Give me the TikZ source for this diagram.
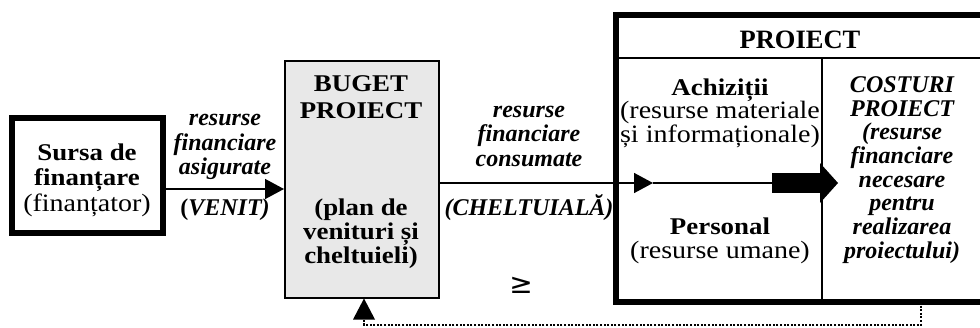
\documentclass[tikz,border=0pt]{standalone}
\usepackage{fontspec}
\setmainfont{Liberation Serif}
\newfontfamily\widefont[FakeStretch=1.12]{Liberation Serif}
\newfontfamily\symfont{DejaVu Sans}
\usetikzlibrary{arrows.meta}
% text sizes: upright regular, upright bold
\newcommand\rgsz{\widefont\fontsize{25}{23.5}\selectfont}
\newcommand\bdsz{\widefont\fontsize{24}{23.5}\selectfont\bfseries}
\begin{document}
\begin{tikzpicture}[x=1pt,y=-1pt,
  txt/.style={align=center, inner sep=0pt, font=\fontsize{24}{24}\selectfont},
  boldit/.style={txt, font=\fontsize{24}{24.5}\selectfont\bfseries\itshape},
  heavybox/.style={draw, line width=6pt, inner sep=0pt, outer sep=0pt},
  budgetbox/.style={draw, fill=gray!18, line width=1.5pt, inner sep=0pt},
  thinline/.style={line width=1.5pt},
  flow/.style={line width=1.5pt, -{Triangle[length=19pt,width=20pt]}},
  bigflow/.style={line width=20pt, -{Triangle[length=18pt,width=40pt,line width=0pt]}},
  feedback/.style={line width=2pt, dash pattern=on 2pt off 1.6pt,
    -{Triangle[length=21pt,width=22pt,line width=0pt]}}
]
\useasboundingbox (0,0) rectangle (980,327);

% boxes
\node[heavybox, anchor=north west, minimum width=151pt, minimum height=115pt] (src) at (12,118) {};
\node[budgetbox, anchor=north west, minimum width=154pt, minimum height=237pt] (buget) at (284,60) {};
\node[heavybox, anchor=north west, minimum width=370pt, minimum height=287pt] (proj) at (616,14.5) {};

% inner lines of the project box
\coordinate (hdl) at (616,58);
\coordinate (hdr) at (986,58);
\coordinate (divtop) at (822,58);
\coordinate (divbot) at (822,301);
\draw[thinline] (hdl) -- (hdr);
\draw[thinline] (divtop) -- (divbot);

% flows
\coordinate (r1) at (0,189);
\coordinate (r2) at (0,183);
\coordinate (tri2) at (653,183);
\coordinate (bigstart) at (772,183);
\coordinate (bigtip) at (838,183);
\draw[flow] (src.east |- r1) -- (buget.west |- r1);
\draw[flow] (buget.east |- r2) -- (tri2);
\draw[thinline] (tri2) -- (bigstart);
\draw[bigflow] (bigstart) -- (bigtip);

% feedback loop
\coordinate (fbstart) at (921,302);
\coordinate (fbcorner) at (364,325);
\draw[feedback] (fbstart) |- (fbcorner) -- (buget.south -| fbcorner);

% texts
\node[txt, font=\widefont\fontsize{24}{25.5}\selectfont] (srctext) at (87,180) {{\bdsz Sursa de}\\{\bdsz finanțare}\\{\rgsz (finanțator)}};
\node[boldit] (inlbl) at (225,147) {resurse\\financiare\\asigurate};
\node[txt] (venit) at (225,210) {\textbf{(}\textbf{\textit{VENIT)}}};
\node[txt, font=\widefont\fontsize{24}{26.5}\selectfont\bfseries] (bt) at (361,97) {BUGET\\PROIECT};
\node[txt, font=\widefont\fontsize{24}{24}\selectfont\bfseries] (bp) at (361,234) {(plan de\\venituri și\\cheltuieli)};
\node[boldit] (outlbl) at (529,136) {resurse\\financiare\\consumate};
\node[boldit] (chelt) at (529,208) {(CHELTUIALĂ)};
\node[txt, font=\fontsize{26.5}{26}\selectfont\bfseries] (ph) at (800,40) {PROIECT};
\node[txt, font=\widefont\fontsize{25}{23.5}\selectfont] (ach) at (720,113) {{\bdsz Achiziții}\\(resurse materiale\\și informaționale)};
\node[txt, font=\widefont\fontsize{25}{23.5}\selectfont] (pers) at (720,241) {{\bdsz Personal}\\(resurse umane)};
\node[boldit, font=\fontsize{24}{23.7}\selectfont\bfseries\itshape] (cost) at (902,170) {COSTURI\\PROIECT\\(resurse\\financiare\\necesare\\pentru\\realizarea\\proiectului)};
\node[inner sep=0pt, font=\fontsize{28}{28}\selectfont\symfont] (geq) at (521,285) {≥};
\end{tikzpicture}
\end{document}
